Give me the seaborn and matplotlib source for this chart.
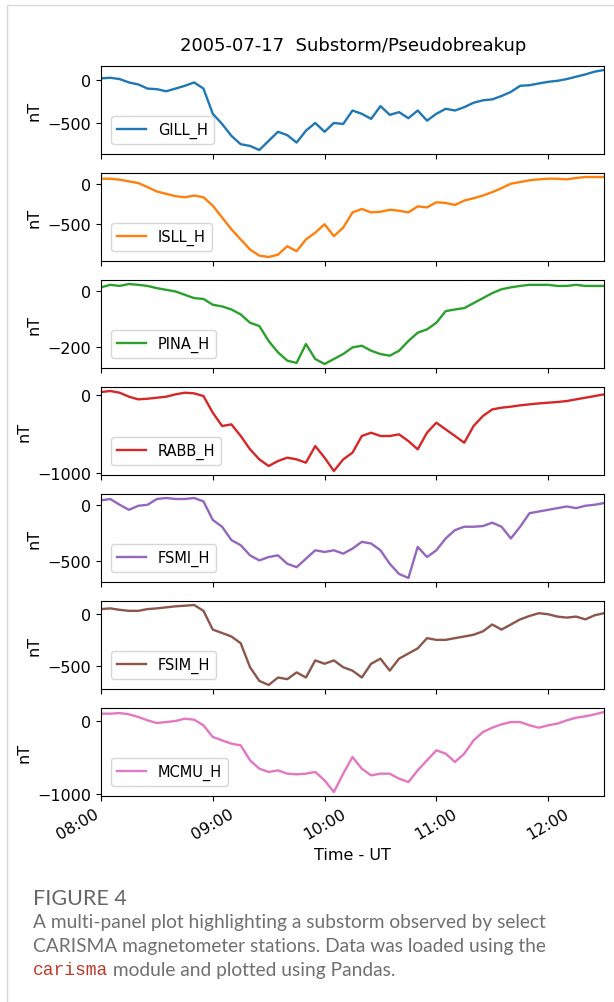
import pandas as pd
import matplotlib.pyplot as plt
import matplotlib.dates as mdates
from matplotlib.patches import Rectangle
import seaborn as sns

# -------------------------
# Data (H component, nT, 5-minute samples 08:00 - 12:30 UT)
# -------------------------

times = pd.date_range("2005-07-17 08:00", "2005-07-17 12:30", freq="5min")

stations = ["GILL_H", "ISLL_H", "PINA_H", "RABB_H", "FSMI_H", "FSIM_H", "MCMU_H"]

gill = [20, 27, 12, -27, -50, -98, -105, -129, -98, -66, -27, -98,
        -390, -508, -645, -742, -762, -809, -703, -598, -637, -723, -586, -496,
        -598, -496, -508, -352, -390, -449, -301, -402, -371, -441, -352, -469,
        -390, -332, -352, -313, -262, -234, -223, -184, -137, -66, -59, -39,
        -20, -8, 12, 39, 66, 98, 117]

isll = [62, 62, 50, 29, 8, -42, -96, -125, -154, -167, -146, -167,
        -271, -417, -562, -687, -812, -887, -904, -875, -771, -833, -687, -604,
        -500, -646, -542, -354, -312, -354, -346, -321, -333, -354, -279, -292,
        -229, -237, -262, -208, -179, -146, -104, -54, 0, 21, 42, 54,
        62, 62, 54, 71, 83, 83, 83]

pina = [15, 24, 20, 27, 24, 20, 12, 6, 0, -12, -24, -27,
        -48, -54, -65, -83, -113, -125, -179, -220, -250, -258, -190, -244,
        -262, -244, -226, -202, -196, -214, -226, -232, -214, -179, -149, -137,
        -113, -71, -65, -60, -42, -24, -6, 8, 15, 20, 24, 24,
        24, 20, 20, 24, 20, 20, 20]

rabb = [43, 56, 34, -17, -51, -43, -30, -17, 13, 34, 26, -9,
        -222, -393, -372, -521, -692, -821, -906, -842, -799, -821, -863, -650,
        -799, -970, -821, -735, -521, -479, -521, -521, -500, -586, -692, -479,
        -350, -436, -521, -607, -393, -265, -180, -158, -145, -128, -115, -103,
        -94, -85, -73, -51, -30, -9, 13]

fsmi = [39, 51, 0, -45, -9, 0, 51, 60, 51, 51, 60, 30,
        -135, -195, -314, -359, -449, -494, -464, -449, -524, -554, -479, -404,
        -419, -404, -434, -389, -329, -344, -404, -524, -614, -650, -374, -464,
        -404, -299, -225, -195, -195, -189, -159, -195, -299, -195, -75, -60,
        -45, -30, -15, -30, -9, 0, 15]

fsim = [50, 57, 43, 33, 33, 50, 57, 67, 77, 83, 90, 33,
        -150, -183, -217, -283, -517, -650, -690, -617, -633, -567, -617, -450,
        -483, -450, -517, -550, -617, -483, -433, -550, -433, -383, -333, -233,
        -250, -250, -233, -217, -200, -167, -100, -150, -100, -50, -17, 10,
        0, -23, -33, -23, -50, -10, 10]

mcmu = [100, 100, 109, 91, 55, 9, -27, -14, 0, 32, 18, -59,
        -218, -264, -309, -332, -536, -650, -695, -673, -718, -727, -718, -695,
        -809, -968, -718, -491, -650, -741, -718, -718, -786, -832, -673, -536,
        -400, -445, -559, -445, -264, -150, -91, -45, -14, -14, -59, -91,
        -59, -36, 9, 45, 64, 91, 123]

series = [gill, isll, pina, rabb, fsmi, fsim, mcmu]
colors = sns.color_palette("tab10", 7)

# -------------------------
# Plot
# -------------------------

fs = 11.5

fig, axes = plt.subplots(7, 1, figsize=(6.14, 10.03), dpi=100, sharex=True)
fig.subplots_adjust(left=101 / 614, right=604 / 614,
                    top=1 - 67 / 1003, bottom=1 - 797 / 1003, hspace=19 / 88)

for ax, name, vals, col in zip(axes, stations, series, colors):
    sns.lineplot(x=times, y=vals, ax=ax, color=col, label=name, linewidth=1.7)
    ax.set_ylabel("nT", fontsize=fs)
    ax.tick_params(labelsize=fs)
    ax.legend(loc="lower left", fontsize=10.5, borderaxespad=0.7)
    ax.set_xlim(times[0], times[-1])

axes[-1].xaxis.set_major_locator(mdates.HourLocator())
axes[-1].xaxis.set_major_formatter(mdates.DateFormatter("%H:%M"))
for i, lab in enumerate(axes[-1].get_xticklabels()):
    lab.set_rotation(30)
    lab.set_ha("right" if i == 0 else "center")
axes[-1].set_xlabel("Time - UT", fontsize=fs)

fig.text(353 / 614, 1 - 46 / 1003, "2005-07-17  Substorm/Pseudobreakup",
         ha="center", va="center", fontsize=13)

# page frame
fig.add_artist(Rectangle((7 / 614, -0.05), 1.2, 1 - 6 / 1003 + 0.05,
                         transform=fig.transFigure, fill=False,
                         edgecolor="#d9d9d9", linewidth=1))

# caption
grey = "#707070"
fig.text(33 / 614, 1 - 899 / 1003, "FIGURE 4", fontsize=15.5, color="#666666",
         family="Lato", va="center")
fig.text(33 / 614, 1 - 923 / 1003,
         "A multi-panel plot highlighting a substorm observed by select",
         fontsize=13.8, color=grey, family="Lato", va="center")
fig.text(33 / 614, 1 - 947 / 1003,
         "CARISMA magnetometer stations. Data was loaded using the",
         fontsize=13.8, color=grey, family="Lato", va="center")
t1 = fig.text(33 / 614, 1 - 971 / 1003, "carisma", fontsize=13, color="#c0392b",
              family="Liberation Mono", va="center")
fig.add_artist(plt.Annotation(" module and plotted using Pandas.", xy=(1, 0.5),
                              xycoords=t1, va="center", ha="left",
                              fontsize=13.8, color=grey, family="Lato"))

fig.savefig("out.png", dpi=100)
